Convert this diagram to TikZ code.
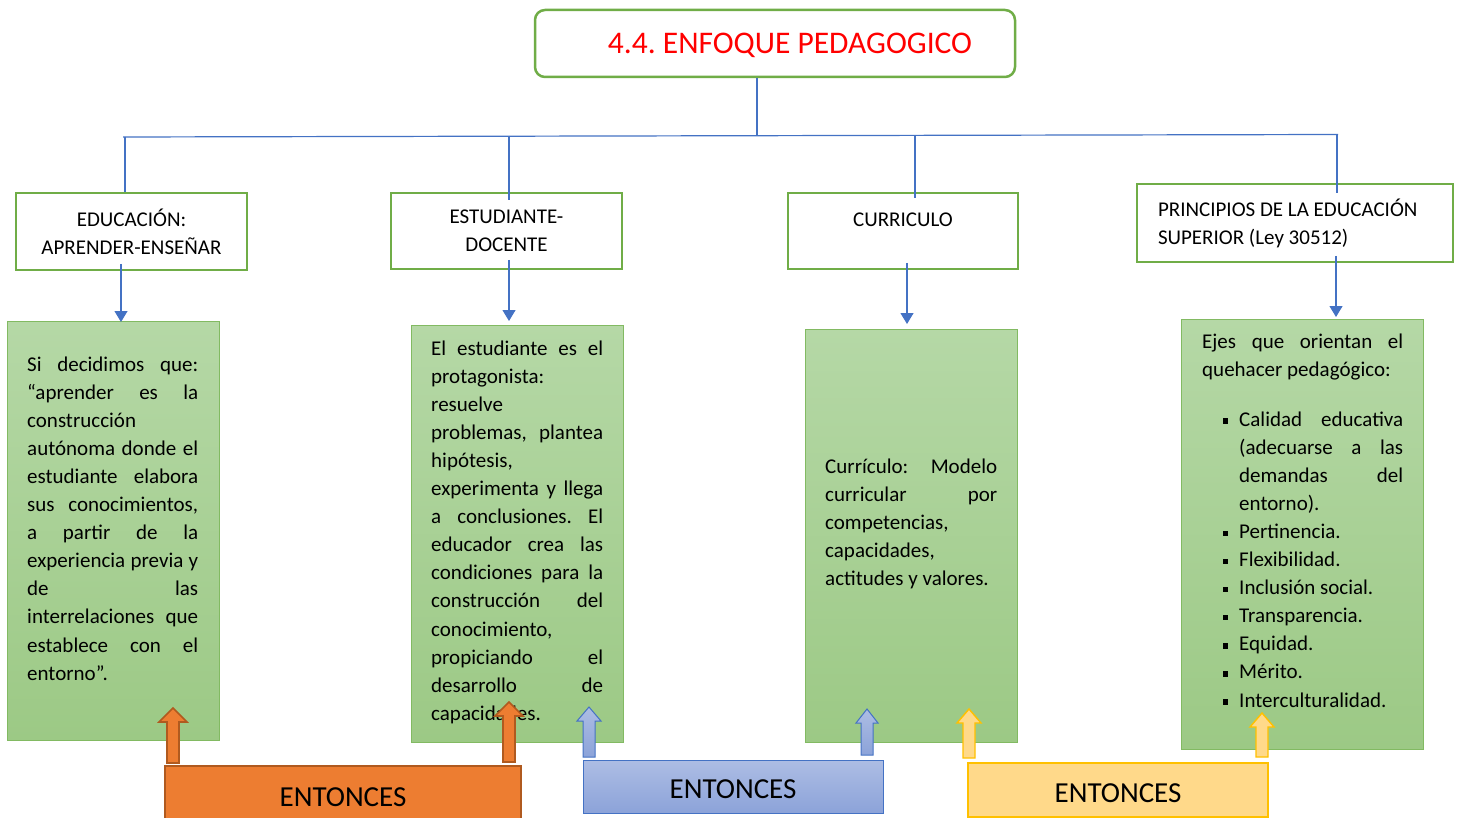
\documentclass[tikz,border=0pt]{standalone}
\usepackage{fontspec}
\setmainfont{Carlito}
\usetikzlibrary{arrows.meta}
\definecolor{hgreen}{HTML}{70AD47}
\definecolor{conn}{HTML}{4472C4}
\definecolor{gtop}{HTML}{B5D8A6}
\definecolor{gbot}{HTML}{9CC985}
\definecolor{gline}{HTML}{82BA62}
\definecolor{oran}{HTML}{ED7D31}
\definecolor{orand}{HTML}{B05A1F}
\definecolor{btop}{HTML}{ADBDE4}
\definecolor{bbot}{HTML}{8CA3D9}
\definecolor{yfill}{HTML}{FFD98A}
\definecolor{yline}{HTML}{FFC000}
\definecolor{tred}{HTML}{FF0000}
\hbadness=10000
\hfuzz=20pt
\frenchspacing
\newcommand\J[1]{\makebox[\linewidth][s]{#1}}
\newcommand\JJ[1]{\makebox[164pt][s]{#1}}
\newcommand\bul{\makebox[16.5pt][l]{\raisebox{2.25pt}{\rule{5.5pt}{5.5pt}}}}
\newcommand\bodyfont{\frenchspacing\fontsize{21}{28.1}\selectfont}
\newcommand\blkarrow[5]{%
  \draw[#1] (#2-6,#3) -- (#2-6,#4+14) -- (#2-#5,#4+14) -- (#2,#4) -- (#2+#5,#4+14) -- (#2+6,#4+14) -- (#2+6,#3) -- cycle;}
\tikzset{
  hbox/.style={draw=hgreen, line width=2.5pt, fill=white, font=\bodyfont, align=center, inner sep=0pt},
  gbox/.style={draw=gline, line width=1pt, top color=gtop, bottom color=gbot, inner sep=0pt},
  cline/.style={draw=conn, line width=1.2pt},
  darr/.style={draw=conn, line width=1.2pt, -{Triangle[width=13pt,length=11pt]}, color=conn},
  txt/.style={anchor=base west, inner sep=0pt, font=\bodyfont},
  ent/.style={font=\fontsize{29}{34}\selectfont, inner sep=0pt},
  oarr/.style={fill=oran, draw=orand, line width=1.6pt},
  barr/.style={top color=btop, bottom color=bbot, draw=conn, line width=1pt},
  yarr/.style={fill=yfill, draw=yline, line width=1.4pt}
}
\begin{document}
\begin{tikzpicture}[x=1pt,y=-1pt]
\useasboundingbox (0,0) rectangle (1461,818);
\fill[white] (0,0) rectangle (1461,818);

% title
\node[draw=hgreen, line width=2.5pt, rounded corners=10pt, fill=white, minimum width=480pt, minimum height=67pt, inner sep=0pt,
      text height=20.3pt, text depth=0pt,
      font=\frenchspacing\fontsize{31.5}{36}\selectfont, text=tred] (t) at (775,43.5) {\hspace*{30pt}4.4. ENFOQUE PEDAGOGICO};

% header boxes
\node[hbox, minimum width=231pt, minimum height=77pt] (h1) at (131.5,231.5) {EDUCACIÓN:\\APRENDER-ENSEÑAR};
\node[hbox, minimum width=231pt, minimum height=76pt] (h2) at (506.5,231) {ESTUDIANTE-\\DOCENTE};
\node[hbox, minimum width=230pt, minimum height=76pt, text height=14pt, text depth=22pt] (h3) at (903,231) {CURRICULO};
\node[hbox, minimum width=316pt, minimum height=78pt, text width=274pt, align=flush left, inner xsep=21pt] (h4) at (1295,223)
  {PRINCIPIOS DE LA EDUCACIÓN\\SUPERIOR (Ley 30512)};

% connectors
\coordinate (j) at (757,135.8);
\coordinate (bl) at (123,137);
\coordinate (br) at (1338,134.5);
\coordinate (b1) at (125,136.8);
\coordinate (b2) at (509,136);
\coordinate (b2e) at (509,200);
\coordinate (b3) at (915,135.5);
\coordinate (b3e) at (915,198);
\coordinate (b4) at (1337,134.6);
\coordinate (b4e) at (1337,193);
\draw[cline] (j |- t.south) -- (j);
\draw[cline] (bl) -- (br);
\draw[cline] (b1) -- (b1 |- h1.north);
\draw[cline] (b2) -- (b2e);
\draw[cline] (b3) -- (b3e);
\draw[cline] (b4) -- (b4e);

% green boxes
\node[gbox, minimum width=212pt, minimum height=419pt] (g1) at (113,530.5) {};
\node[gbox, minimum width=212pt, minimum height=417pt] (g2) at (517,533.5) {};
\node[gbox, minimum width=212pt, minimum height=413pt] (g3) at (911,535.5) {};
\node[gbox, minimum width=242pt, minimum height=430pt] (g4) at (1302,534) {};

% down arrows
\coordinate (a1s) at (121,264); \coordinate (a1e) at (121,322);
\coordinate (a2s) at (509,260); \coordinate (a2e) at (509,321);
\coordinate (a3s) at (907,263); \coordinate (a3e) at (907,324);
\coordinate (a4s) at (1336,256); \coordinate (a4e) at (1336,317);
\draw[darr] (a1s) -- (a1e);
\draw[darr] (a2s) -- (a2e);
\draw[darr] (a3s) -- (a3e);
\draw[darr] (a4s) -- (a4e);

% texts
\node[txt] (t1) at (27,371) {\parbox[t]{171pt}{%
\J{Si decidimos que:}\\
\J{“aprender es la}\\
construcción\\
\J{autónoma donde el}\\
\J{estudiante elabora}\\
\J{sus conocimientos,}\\
\J{a partir de la}\\
\J{experiencia previa y}\\
\J{de las}\\
\J{interrelaciones que}\\
\J{establece con el}\\
entorno”.}};

\node[txt] (t2) at (431,355) {\parbox[t]{172pt}{%
\J{El estudiante es el}\\
protagonista:\\
resuelve\\
\J{problemas, plantea}\\
hipótesis,\\
\J{experimenta y llega}\\
\J{a conclusiones. El}\\
\J{educador crea las}\\
\J{condiciones para la}\\
\J{construcción del}\\
conocimiento,\\
\J{propiciando el}\\
\J{desarrollo de}\\
capacidades.}};

\node[txt] (t3) at (825,473) {\parbox[t]{172pt}{%
\J{Currículo: Modelo}\\
\J{curricular por}\\
competencias,\\
capacidades,\\
actitudes y valores.}};

\node[txt] (t4) at (1202,348) {\parbox[t]{201pt}{%
\J{Ejes que orientan el}\\
quehacer pedagógico:}};

\node[txt] (t5) at (1222.5,426) {\parbox[t]{181pt}{%
\bul\JJ{Calidad educativa}\\
\hspace*{16.5pt}\JJ{(adecuarse a las}\\
\hspace*{16.5pt}\JJ{demandas del}\\
\hspace*{16.5pt}entorno).\\
\bul Pertinencia.\\
\bul Flexibilidad.\\
\bul Inclusión social.\\
\bul Transparencia.\\
\bul Equidad.\\
\bul Mérito.\\
\bul Interculturalidad.}};

% ENTONCES boxes
\node[ent, fill=oran, draw=orand, line width=2pt, minimum width=356pt, minimum height=62pt] (eo) at (343,797) {ENTONCES};
\node[ent, top color=btop, bottom color=bbot, draw=conn, line width=1pt, minimum width=300pt, minimum height=53pt,
      text height=24pt, text depth=0pt] (eb) at (733,786.5) {ENTONCES};
\node[ent, fill=yfill, draw=yline, line width=1.5pt, minimum width=300pt, minimum height=54pt,
      text height=24.5pt, text depth=0pt] (ey) at (1118,790) {ENTONCES};

% block arrows
\blkarrow{oarr}{173}{763}{708}{14}
\blkarrow{oarr}{509}{762}{702}{14}
\blkarrow{barr}{589}{757}{707}{12}
\blkarrow{barr}{867}{755}{709}{11}
\blkarrow{yarr}{969}{758}{709}{12}
\blkarrow{yarr}{1262}{757}{713}{12}
\end{tikzpicture}
\end{document}
